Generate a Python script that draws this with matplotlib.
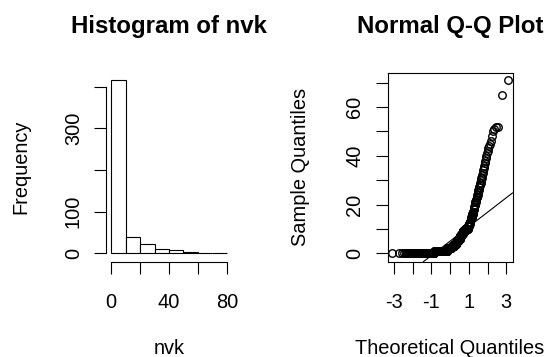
import numpy as np
import matplotlib
matplotlib.use("Agg")
import matplotlib.pyplot as plt
from statistics import NormalDist

# nvk observations, stored as distinct values with how often each occurs
nvk_values = [0, 1, 2, 3, 4, 5, 6, 7, 8, 9, 10,
              11, 12, 13, 14, 15, 16, 17, 18, 19, 20,
              21, 22, 23, 24, 25, 26, 27, 28, 29, 30,
              31, 32, 33, 34, 35, 36, 37, 38, 39, 40,
              41, 42, 43, 44, 45, 46, 48, 50,
              51, 52, 65, 71]
nvk_counts = [100, 120, 45, 30, 22, 18, 15, 14, 11, 18, 22,
              6, 6, 5, 5, 4, 4, 3, 3, 2, 2,
              3, 3, 3, 2, 2, 2, 2, 2, 2, 1,
              2, 1, 1, 1, 1, 1, 1, 1, 1, 1,
              1, 1, 1, 1, 1, 1, 1, 1,
              1, 2, 1, 1]

hist_breaks = [0, 10, 20, 30, 40, 50, 60, 70, 80]
hist_xticks = [0, 20, 40, 60, 80]
hist_xticklabels = ["0", "", "40", "", "80"]
hist_yticks = [0, 100, 200, 300, 400]
hist_yticklabels = ["0", "100", "", "300", ""]
qq_xticks = [-3, -2, -1, 0, 1, 2, 3]
qq_xticklabels = ["-3", "", "-1", "", "1", "", "3"]
qq_yticks = [0, 10, 20, 30, 40, 50, 60, 70]
qq_yticklabels = ["0", "", "20", "", "40", "", "60", ""]

plt.rcParams["font.family"] = ["Liberation Sans", "DejaVu Sans"]

W, H = 551, 357
PT = 0.72  # points per pixel at dpi 100


def rect(left, right, top, bottom):
    return [left / W, 1 - bottom / H, (right - left) / W, (bottom - top) / H]


nvk = np.repeat(np.array(nvk_values, dtype=float), nvk_counts)
breaks = np.array(hist_breaks, dtype=float)

# right-closed bins, lowest edge included
idx = np.searchsorted(breaks, nvk, side="left")
idx = np.clip(idx, 1, len(breaks) - 1) - 1
freq = np.bincount(idx, minlength=len(breaks) - 1)

fig = plt.figure(figsize=(W / 100, H / 100), dpi=100)

TOP, BOTTOM = 72.7, 261.7
tick_len = 11.7 * PT
lw = 0.8
fs = 14.4
fs_title = 17.3

# ---------------- histogram ----------------
hl, hr = 106.4, 231.6
ax1 = fig.add_axes(rect(hl, hr, TOP, BOTTOM))
ax1.bar(breaks[:-1], freq, width=np.diff(breaks), align="edge",
        facecolor="white", edgecolor="black", linewidth=lw)
ax1.set_xlim(-3.2, 83.2)
ax1.set_ylim(-20.2, 433.6)
for s in ("top", "right"):
    ax1.spines[s].set_visible(False)
ax1.spines["left"].set_bounds(hist_yticks[0], hist_yticks[-1])
ax1.spines["bottom"].set_bounds(hist_xticks[0], hist_xticks[-1])
ax1.set_xticks(hist_xticks, hist_xticklabels)
ax1.set_yticks(hist_yticks, hist_yticklabels)
ax1.set_title("Histogram of nvk", fontsize=fs_title, fontweight="bold",
              pad=(TOP - 33.3) * PT)
ax1.set_xlabel("nvk", fontsize=fs, va="baseline")
ax1.xaxis.set_label_coords(0.5, -(354.5 - BOTTOM) / (BOTTOM - TOP))
ax1.set_ylabel("Frequency", fontsize=fs, va="center", ha="center")
ax1.yaxis.set_label_coords(-(hl - 20.8) / (hr - hl), 0.5)

# ---------------- normal Q-Q plot ----------------
ql, qr = 387.7, 512.5
ax2 = fig.add_axes(rect(ql, qr, TOP, BOTTOM))
n = len(nvk)
nd = NormalDist()
probs = (np.arange(1, n + 1) - 0.5) / n
theo = np.array([nd.inv_cdf(p) for p in probs])
sample = np.sort(nvk)
ax2.plot(theo, sample, "o", mfc="none", mec="black", ms=5.4, mew=1.0,
         linestyle="none")
q1, q3 = np.quantile(nvk, [0.25, 0.75])
z1, z3 = nd.inv_cdf(0.25), nd.inv_cdf(0.75)
slope = (q3 - q1) / (z3 - z1)
ax2.axline((z1, q1), slope=slope, color="black", linewidth=lw)
ax2.set_xlim(-3.33, 3.33)
ax2.set_ylim(-3.45, 74.1)
ax2.set_xticks(qq_xticks, qq_xticklabels)
ax2.set_yticks(qq_yticks, qq_yticklabels)
ax2.set_title("Normal Q-Q Plot", fontsize=fs_title, fontweight="bold",
              pad=(TOP - 33.3) * PT)
ax2.set_xlabel("Theoretical Quantiles", fontsize=fs, va="baseline")
ax2.xaxis.set_label_coords(0.5, -(354.5 - BOTTOM) / (BOTTOM - TOP))
ax2.set_ylabel("Sample Quantiles", fontsize=fs, va="center", ha="center")
ax2.yaxis.set_label_coords(-(ql - 300.0) / (qr - ql), 0.5)

for ax in (ax1, ax2):
    for s in ax.spines.values():
        s.set_linewidth(lw)
        s.set_color("black")
    ax.tick_params(axis="both", direction="out", length=tick_len, width=lw,
                   labelsize=fs, colors="black")
    ax.tick_params(axis="x", pad=(308.2 - BOTTOM) * PT - tick_len)
    ax.tick_params(axis="y", pad=(33.0 * PT) - tick_len)
    for lab in ax.get_xticklabels():
        lab.set_va("baseline")
    for lab in ax.get_yticklabels():
        lab.set_rotation(90)
        lab.set_ha("center")
        lab.set_va("center")

fig.savefig("out.png", dpi=100)
